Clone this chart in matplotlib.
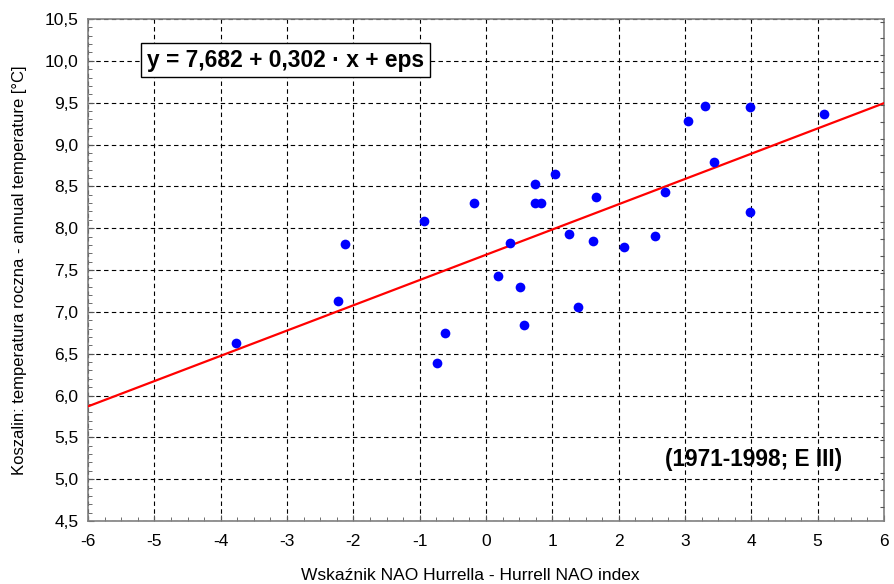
import matplotlib
matplotlib.use("Agg")
import matplotlib.pyplot as plt
from matplotlib.ticker import MultipleLocator, FuncFormatter
import numpy as np

plt.rcParams['font.family'] = ['Liberation Sans', 'DejaVu Sans']
plt.rcParams['axes.unicode_minus'] = False

# Data (NAO index vs annual temperature, Koszalin 1971-1998)
nao = [-3.77, -2.23, -2.13, -0.93, -0.74, -0.62, -0.18, 0.18, 0.36, 0.51,
       0.57, 0.74, 0.74, 0.83, 1.04, 1.25, 1.39, 1.61, 1.66, 2.08,
       2.55, 2.70, 3.05, 3.30, 3.44, 3.98, 3.98, 5.10]
temp = [6.63, 7.13, 7.81, 8.09, 6.39, 6.75, 8.30, 7.43, 7.82, 7.30,
        6.84, 8.53, 8.30, 8.30, 8.65, 7.93, 7.06, 7.85, 8.37, 7.78,
        7.91, 8.43, 9.28, 9.46, 8.79, 9.45, 8.19, 9.36]
intercept = 7.682
slope = 0.302
x_range = [-6, 6]
y_range = [4.5, 10.5]

W, H = 894, 584
fig = plt.figure(figsize=(W / 100, H / 100), dpi=100)
ax = fig.add_axes([88 / W, (H - 521) / H, (884 - 88) / W, (521 - 19) / H])

ax.set_xlim(*x_range)
ax.set_ylim(*y_range)

ax.grid(True, which='major', color='black', linestyle=(0, (4, 3)), linewidth=0.8)
ax.set_axisbelow(True)

lx = np.array(x_range, dtype=float)
ax.plot(lx, intercept + slope * lx, color='#ff0000', linewidth=1.6, zorder=3)
ax.plot(nao, temp, 'o', color='#0000ff', markersize=7, markeredgewidth=0, zorder=4)

ax.xaxis.set_major_locator(MultipleLocator(1))
ax.xaxis.set_minor_locator(MultipleLocator(0.25))
ax.yaxis.set_major_locator(MultipleLocator(0.5))
ax.yaxis.set_minor_locator(MultipleLocator(0.1))
ax.yaxis.set_major_formatter(FuncFormatter(lambda v, p: f"{v:.1f}".replace('.', ',')))
ax.xaxis.set_major_formatter(FuncFormatter(lambda v, p: f"{int(round(v))}"))

ax.tick_params(axis='both', which='both', direction='in', color='#555555')
ax.tick_params(axis='x', which='major', length=4, labelsize=12.5, pad=9)
ax.tick_params(axis='x', which='minor', length=3)
ax.tick_params(axis='y', which='major', length=4, labelsize=12.5, pad=7)
ax.tick_params(axis='y', which='minor', length=3)

for s in ax.spines.values():
    s.set_color('#808080')
    s.set_linewidth(1.2)

# right-hand inner ticks
ax2 = ax.twinx()
ax2.set_ylim(*y_range)
ax2.yaxis.set_major_locator(MultipleLocator(0.2, offset=0.07))
ax2.tick_params(axis='y', which='both', direction='in', length=3, labelright=False, color='#555555')
for s in ax2.spines.values():
    s.set_visible(False)

fig.text(20 / W, 1 - 270 / H, 'Koszalin: temperatura roczna - annual temperature [°C]',
         rotation=90, ha='center', va='center', fontsize=12)
fig.text(470 / W, 1 - 575 / H, 'Wskaźnik NAO Hurrella - Hurrell NAO index',
         ha='center', va='center', fontsize=12.5)

ax.text(0.074, 0.918, 'y = 7,682 + 0,302 · x + eps', transform=ax.transAxes,
        fontsize=16.4, fontweight='bold', ha='left', va='center', zorder=6,
        bbox=dict(boxstyle='square,pad=0.25', facecolor='white', edgecolor='black', linewidth=1))
ax.text(0.948, 0.122, '(1971-1998; E III)', transform=ax.transAxes,
        fontsize=16.3, fontweight='bold', ha='right', va='center', zorder=6)

fig.savefig('out.png', dpi=100, facecolor='white')
